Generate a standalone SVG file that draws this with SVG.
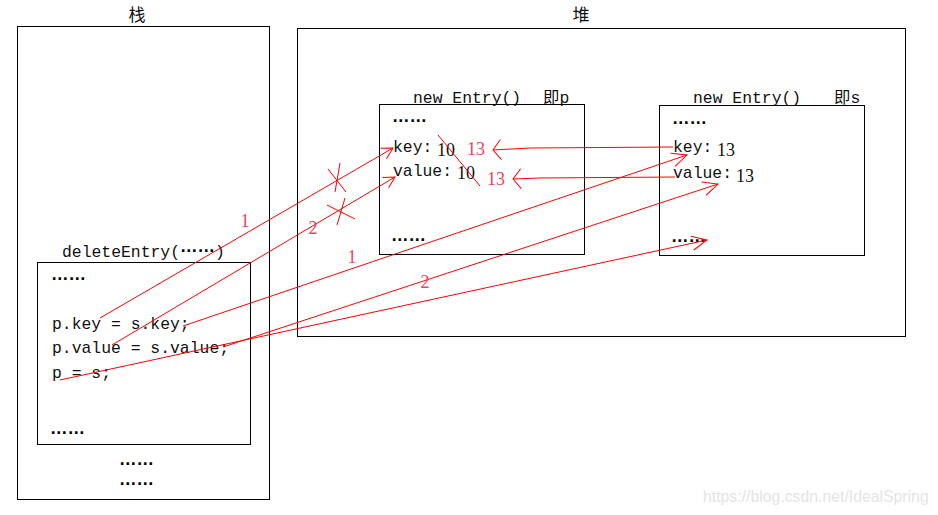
<svg xmlns="http://www.w3.org/2000/svg" width="938" height="515" viewBox="0 0 938 515">
<style>
.box{fill:none;stroke:#000;stroke-width:1}
.t{font-family:"Liberation Mono","Noto Sans CJK SC",monospace;font-size:16.4px;fill:#111}
.cjk{font-family:"Noto Sans CJK SC",sans-serif;font-size:17px;fill:#111}
.dots{font-family:"Liberation Sans",sans-serif;font-size:17.5px;fill:#000;font-weight:bold}
.num{font-family:"Liberation Serif",serif;font-size:18px;fill:#111}
.rn{font-family:"Liberation Serif",serif;font-size:18px;fill:#f0405a}
.ln{stroke:#f00;stroke-width:1;fill:none}
.wm{font-family:"Liberation Sans",sans-serif;font-size:15.8px;fill:#e4e4e4}
</style>
<defs>
<marker id="ah" markerUnits="userSpaceOnUse" viewBox="-20 -15 30 30" markerWidth="30" markerHeight="30" refX="0" refY="0" orient="auto" overflow="visible">
<path d="M-15,-7 L0,0 L-15,7" fill="none" stroke="#f00" stroke-width="1"/>
</marker>
<marker id="ahs" markerUnits="userSpaceOnUse" viewBox="-20 -15 30 30" markerWidth="30" markerHeight="30" refX="0" refY="0" orient="auto" overflow="visible">
<path d="M-11,-6 L0,0 L-11,6" fill="none" stroke="#f00" stroke-width="1"/>
</marker>
<marker id="ahw" markerUnits="userSpaceOnUse" viewBox="-20 -15 30 30" markerWidth="30" markerHeight="30" refX="0" refY="0" orient="auto" overflow="visible">
<path d="M-8,-10 L0,0 L-8,10" fill="none" stroke="#f00" stroke-width="1"/>
</marker>
</defs>
<rect width="938" height="515" fill="#fff"/>

<g id="stack">
<text class="cjk" x="137" y="21" text-anchor="middle">栈</text>
<rect class="box" x="17.5" y="26.5" width="252" height="473"/>
<text class="dots" x="119" y="465">……</text>
<text class="dots" x="119" y="485">……</text>
</g>

<g id="deleteEntry">
<text class="t" x="62" y="257">deleteEntry(<tspan class="dots" dy="-5">……</tspan><tspan dy="5">)</tspan></text>
<rect class="box" x="37.5" y="262.5" width="213" height="182"/>
<text class="dots" x="51" y="280">……</text>
<text class="t" x="52" y="329">p.key = s.key;</text>
<text class="t" x="52" y="353">p.value = s.value;</text>
<text class="t" x="52" y="378">p = s;</text>
<text class="dots" x="50" y="434">……</text>
</g>

<g id="heap">
<text class="cjk" x="581" y="21" text-anchor="middle">堆</text>
<rect class="box" x="297.5" y="28.5" width="608" height="308"/>
</g>

<g id="entryP">
<text class="t" x="413" y="103">new Entry()<tspan x="543">即p</tspan></text>
<rect class="box" x="379.5" y="104.5" width="205" height="150"/>
<text class="dots" x="392" y="122">……</text>
<text class="t" x="393" y="152">key:</text>
<text class="num" x="437" y="156">10</text>
<text class="rn" x="467" y="155">13</text>
<text class="t" x="393" y="176">value:</text>
<text class="num" x="457" y="179">10</text>
<text class="rn" x="487" y="185">13</text>
<text class="dots" x="391" y="241">……</text>
</g>

<g id="entryS">
<text class="t" x="693" y="103">new Entry()<tspan x="834">即s</tspan></text>
<rect class="box" x="659.5" y="105.5" width="205" height="150"/>
<text class="dots" x="672" y="124">……</text>
<text class="t" x="673" y="152">key:</text>
<text class="num" x="717" y="156">13</text>
<text class="t" x="673" y="178">value:</text>
<text class="num" x="736" y="182">13</text>
<text class="dots" x="671" y="242">……</text>
</g>

<g id="connectors">
<line class="ln" x1="100" y1="318" x2="393" y2="148" marker-end="url(#ahs)"/>
<line class="ln" x1="112" y1="345" x2="395" y2="177" marker-end="url(#ahs)"/>
<line class="ln" x1="183" y1="326" x2="687" y2="155" marker-end="url(#ah)"/>
<line class="ln" x1="223" y1="347" x2="718" y2="184" marker-end="url(#ah)"/>
<line class="ln" x1="60" y1="380" x2="707" y2="240" marker-end="url(#ah)"/>
<polyline class="ln" points="673,147 530,148 493,150" marker-end="url(#ahw)"/>
<polyline class="ln" points="675,177 540,178 513,179" marker-end="url(#ahw)"/>
<line class="ln" x1="438" y1="135" x2="480" y2="186"/>
<path class="ln" d="M328,169 L346,192 M340,163 L335,192"/>
<path class="ln" d="M327,205 L355,219 M345,198 L337,225"/>
<text class="rn" x="245" y="227" text-anchor="middle">1</text>
<text class="rn" x="313" y="234" text-anchor="middle">2</text>
<text class="rn" x="352" y="263" text-anchor="middle">1</text>
<text class="rn" x="425" y="288" text-anchor="middle">2</text>
</g>

<text class="wm" x="703" y="502">https://blog.csdn.net/IdealSpring</text>
</svg>
